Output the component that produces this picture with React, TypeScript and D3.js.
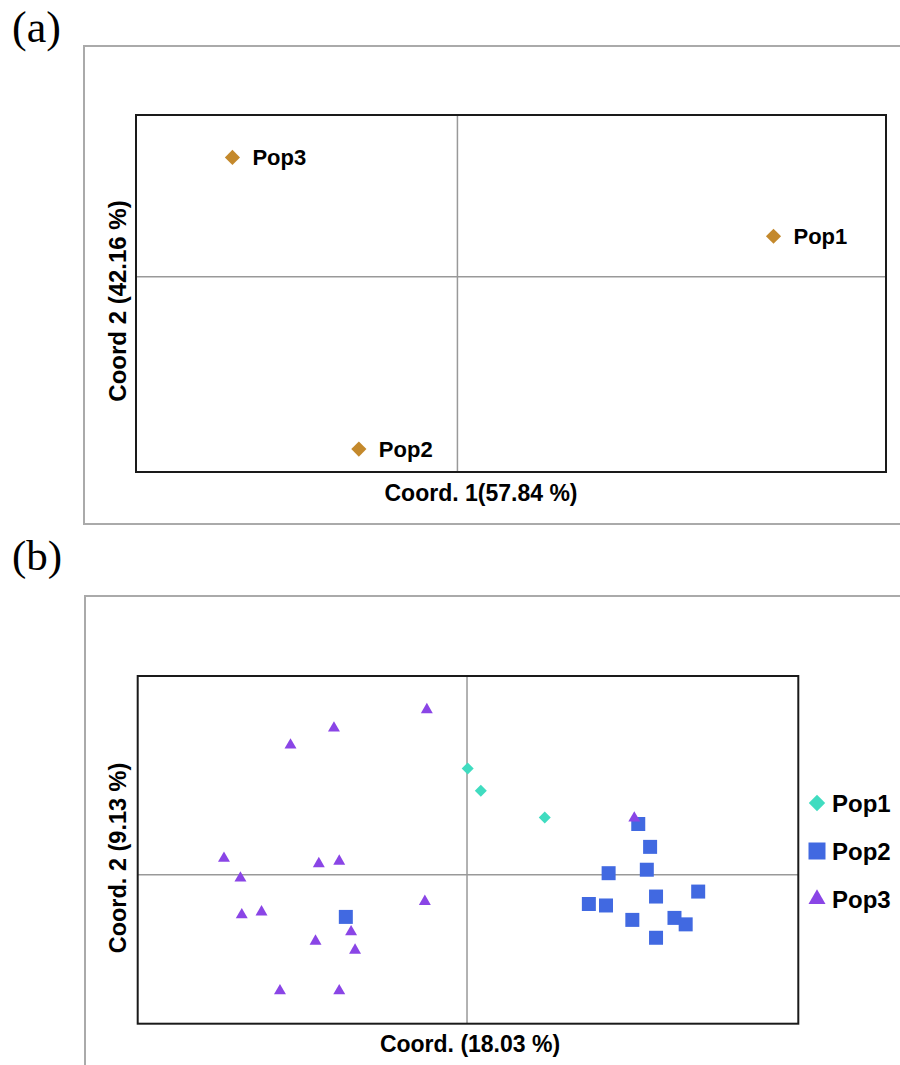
import React from "react";
import * as d3 from "d3";

// panel (a): population PCoA
const popsA = ["Pop1", "Pop2", "Pop3"];
const coord1A = [0.295, -0.092, -0.21];
const coord2A = [0.06, -0.256, 0.177];

// panel (b): individual PCoA
const pop1X = [0.001, 0.021, 0.118];
const pop1Y = [0.214, 0.169, 0.115];

const pop2X = [0.26, 0.278, 0.273, 0.215, 0.287, 0.351, 0.185, 0.211, 0.251, 0.315, 0.332, 0.287, -0.184];
const pop2Y = [0.102, 0.056, 0.01, 0.003, -0.044, -0.034, -0.059, -0.062, -0.091, -0.087, -0.1, -0.127, -0.085];

const pop3X = [-0.268, -0.202, -0.061, 0.254, -0.369, -0.344, -0.225, -0.194, -0.064, -0.342, -0.312, -0.23, -0.176, -0.17, -0.284, -0.194];
const pop3Y = [0.261, 0.295, 0.332, 0.114, 0.033, -0.007, 0.022, 0.027, -0.054, -0.081, -0.075, -0.134, -0.115, -0.152, -0.234, -0.234];

const legendB = ["Pop1", "Pop2", "Pop3"];
const colorsB = ["#40dcc0", "#4169e1", "#8a45e6"];

const sans = "'Liberation Sans', Arial, sans-serif";
const serif = "'Liberation Serif', 'Times New Roman', serif";

const diamond = (size: number) => d3.symbol(d3.symbolSquare, size)()!;
const square = (size: number) => d3.symbol(d3.symbolSquare, size)()!;
const triangle = (size: number) => d3.symbol(d3.symbolTriangle, size)()!;

export default function App() {
  // (a) scales
  const xA = d3.scaleLinear().domain([-0.3, 0.4]).range([136, 886]);
  const yA = d3.scaleLinear().domain([-0.29, 0.24]).range([472, 115]);
  // (b) scales
  const xB = d3.scaleLinear().domain([-0.5, 0.503]).range([137.7, 798.3]);
  const yB = d3.scaleLinear().domain([-0.3, 0.4]).range([1023.7, 676]);

  return (
    <svg
      width={900}
      height={1065}
      style={{ position: "absolute", left: 0, top: 0, background: "#fff" }}
    >
      {/* ---------- (a) ---------- */}
      <text x={12} y={42} fontFamily={serif} fontSize={44}>(a)</text>
      <rect x={84} y={46} width={840} height={478} fill="none" stroke="#aaa" strokeWidth={2} />
      <line x1={xA(0)} x2={xA(0)} y1={yA.range()[1]} y2={yA.range()[0]} stroke="#999" strokeWidth={1.5} />
      <line x1={xA.range()[0]} x2={xA.range()[1]} y1={yA(0)} y2={yA(0)} stroke="#999" strokeWidth={1.5} />
      <rect x={136} y={115} width={750} height={357} fill="none" stroke="#1a1a1a" strokeWidth={2} />
      {popsA.map((p, i) => (
        <g key={p}>
          <path
            d={diamond(115)}
            transform={`translate(${xA(coord1A[i])},${yA(coord2A[i])}) rotate(45)`}
            fill="#c4892c"
          />
          <text
            x={xA(coord1A[i]) + 20}
            y={yA(coord2A[i]) + 8}
            fontFamily={sans}
            fontWeight="bold"
            fontSize={22}
          >
            {p}
          </text>
        </g>
      ))}
      <text x={481} y={501} textAnchor="middle" fontFamily={sans} fontWeight="bold" fontSize={23}>
        Coord. 1(57.84 %)
      </text>
      <text
        transform="translate(126,301) rotate(-90)"
        textAnchor="middle"
        fontFamily={sans}
        fontWeight="bold"
        fontSize={24}
      >
        Coord 2 (42.16 %)
      </text>

      {/* ---------- (b) ---------- */}
      <text x={12} y={570} fontFamily={serif} fontSize={43}>(b)</text>
      <rect x={85} y={596} width={840} height={500} fill="none" stroke="#aaa" strokeWidth={2} />
      <line x1={xB(0)} x2={xB(0)} y1={676} y2={1023.7} stroke="#999" strokeWidth={1.5} />
      <line x1={137.7} x2={798.3} y1={yB(0)} y2={yB(0)} stroke="#999" strokeWidth={1.5} />
      <rect x={137.7} y={676} width={660.6} height={347.7} fill="none" stroke="#1a1a1a" strokeWidth={2} />

      {pop1X.map((v, i) => (
        <path
          key={"p1" + i}
          d={diamond(72)}
          transform={`translate(${xB(v)},${yB(pop1Y[i])}) rotate(45)`}
          fill={colorsB[0]}
        />
      ))}
      {pop2X.map((v, i) => (
        <path
          key={"p2" + i}
          d={square(196)}
          transform={`translate(${xB(v)},${yB(pop2Y[i])})`}
          fill={colorsB[1]}
        />
      ))}
      {pop3X.map((v, i) => (
        <path
          key={"p3" + i}
          d={triangle(62)}
          transform={`translate(${xB(v)},${yB(pop3Y[i])})`}
          fill={colorsB[2]}
        />
      ))}

      {/* legend */}
      {legendB.map((p, i) => {
        const cy = [803, 851, 899][i];
        const d = i === 0 ? diamond(135) : i === 1 ? square(289) : triangle(125);
        return (
          <g key={p}>
            <path
              d={d}
              transform={`translate(817,${cy})${i === 0 ? " rotate(45)" : ""}`}
              fill={colorsB[i]}
            />
            <text x={832} y={cy + 8.5} fontFamily={sans} fontWeight="bold" fontSize={24}>
              {p}
            </text>
          </g>
        );
      })}

      <text x={470} y={1052} textAnchor="middle" fontFamily={sans} fontWeight="bold" fontSize={23}>
        Coord. (18.03 %)
      </text>
      <text
        transform="translate(125.5,858) rotate(-90)"
        textAnchor="middle"
        fontFamily={sans}
        fontWeight="bold"
        fontSize={23.5}
      >
        Coord. 2 (9.13 %)
      </text>
    </svg>
  );
}
